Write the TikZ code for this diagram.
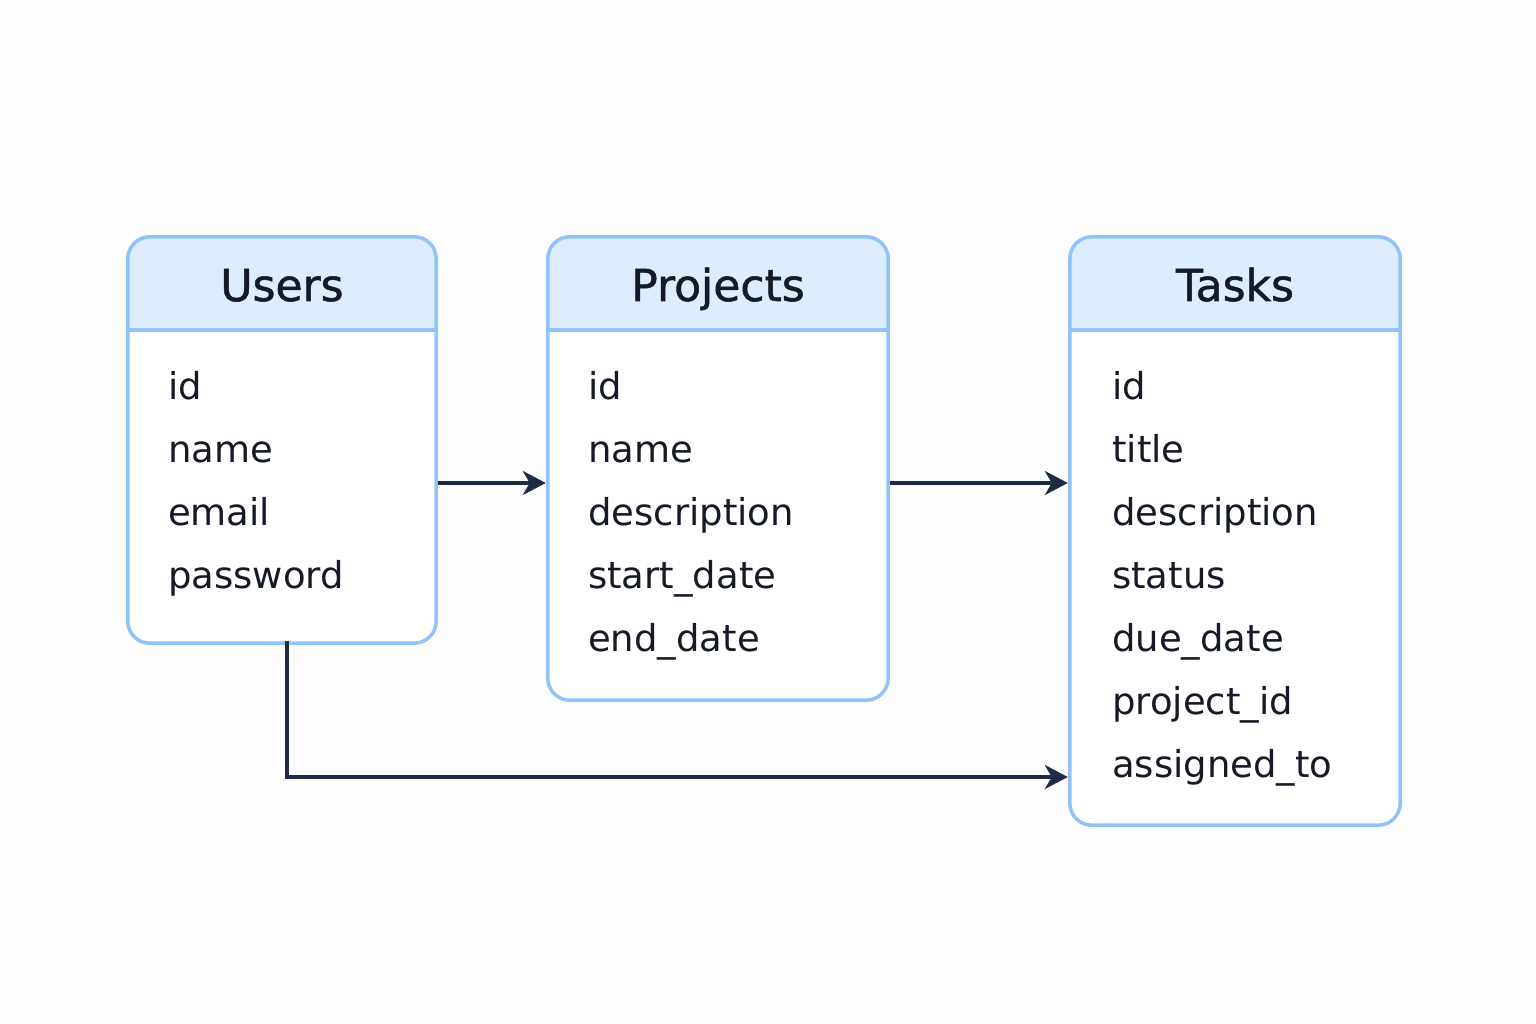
\documentclass[tikz,border=0pt]{standalone}
\usepackage{fontspec}
\setmainfont{DejaVu Sans}
\newfontfamily\titlefont[FakeBold=1.2]{DejaVu Sans}
\usetikzlibrary{arrows.meta}
\definecolor{bordc}{HTML}{90C4F7}
\definecolor{hdrc}{HTML}{DEEDFD}
\definecolor{arrc}{HTML}{1F2B45}
\definecolor{txtc}{HTML}{151A26}
\definecolor{bgc}{HTML}{FDFDFD}
\tikzset{
  tablebox/.style={rectangle, rounded corners=22pt, fill=white, draw=none, inner sep=0pt},
  bordline/.style={draw=bordc, line width=3.5pt},
  titletext/.style={font=\fontsize{44}{52}\selectfont\titlefont, text=txtc, anchor=base, inner sep=0pt},
  fieldtext/.style={font=\fontsize{37}{44}\selectfont, text=txtc, anchor=base west, inner sep=0pt},
  conn/.style={draw=arrc, line width=3.5pt, -{Stealth[length=23pt,width=24pt,inset=7pt]}},
}
\newcommand{\tablebox}[6]{%
  \node[tablebox, minimum width={#4-#2}, minimum height={#5-#3}] (#1) at ({(#2+#4)/2},{(#3+#5)/2}) {};
  \begin{scope}
    \clip[rounded corners=22pt] (#1.south west) rectangle (#1.north east);
    \fill[hdrc] (#1.north west) rectangle (#4,330);
  \end{scope}
  \draw[bordline] (#2,330) -- (#4,330);
  \draw[bordline, rounded corners=22pt] (#1.south west) rectangle (#1.north east);
  \node[titletext] (#1title) at ({(#2+#4)/2},301) {#6};
}
\begin{document}
\begin{tikzpicture}[x=1pt,y=-1pt]
\fill[bgc] (0,0) rectangle (1536,1024);
\useasboundingbox (0,0) rectangle (1536,1024);

\tablebox{users}{128}{237}{436}{643}{Users}
\tablebox{projects}{548}{237}{888}{700}{Projects}
\tablebox{tasks}{1070}{237}{1400}{825}{Tasks}

\foreach \t [count=\i] in {id,name,email,password}
  \node[fieldtext] (uf\i) at (168,{399+63*(\i-1)}) {\t};
\foreach \t [count=\i] in {id,name,description,start\_date,end\_date}
  \node[fieldtext] (pf\i) at (588,{399+63*(\i-1)}) {\t};
\foreach \t [count=\i] in {id,title,description,status,due\_date,project\_id,assigned\_to}
  \node[fieldtext] (tf\i) at (1112,{399+63*(\i-1)}) {\t};

\coordinate (r1) at (0,483);
\coordinate (r2) at (0,777);
\coordinate (c1) at (287,0);
\draw[conn] ([xshift=2pt]users.east |- r1) -- ([xshift=-2pt]projects.west |- r1);
\draw[conn] ([xshift=2pt]projects.east |- r1) -- ([xshift=-2pt]tasks.west |- r1);
\draw[conn] ([yshift=2pt]c1 |- users.south) -- (c1 |- r2) -- ([xshift=-2pt]tasks.west |- r2);
\end{tikzpicture}
\end{document}
